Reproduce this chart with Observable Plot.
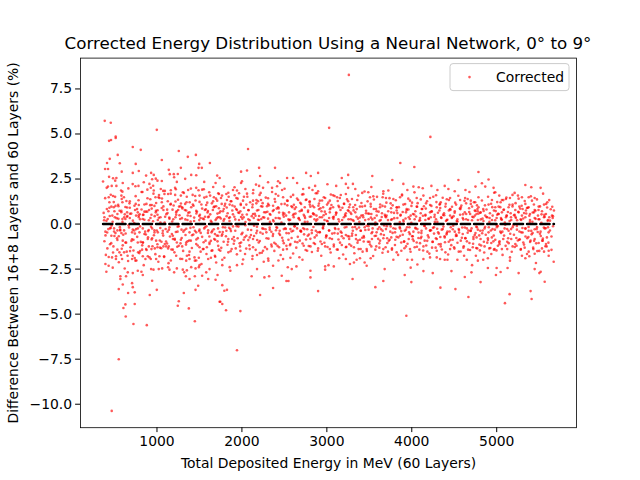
<!DOCTYPE html>
<html>
<head>
<meta charset="utf-8">
<script src="https://cdn.jsdelivr.net/npm/d3@7"></script>
<script src="https://cdn.jsdelivr.net/npm/@observablehq/plot@0.6"></script>
<style>
  html, body { margin: 0; padding: 0; background: white; }
</style>
</head>
<body>
<div id="chart"></div>
<script>
const chartTitle = "Corrected Energy Distribution Using a Neural Network, 0° to 9°";
const xLabel = "Total Deposited Energy in MeV (60 Layers)";
const yLabel = "Difference Between 16+8 Layers and 60 Layers (%)";
const seriesName = "Corrected";
const xTicks = [1000, 2000, 3000, 4000, 5000];
const yTicks = [-10, -7.5, -5, -2.5, 0, 2.5, 5, 7.5];

// [energy (MeV), difference (%)], grouped by energy range
const band1 = [
[385,5.73],[456,5.62],[436,4.62],[459,4.67],[514,4.86],[514,4.78],[998,5.23],[715,4.28],[809,4.12],[1257,4.06],[1363,3.73],[1458,3.84],[538,3.84],[444,3.62],[412,3.39],[562,3.38],[750,3.34],[1057,3.56],[1497,3.34],[1623,3.39],[389,3.06],[424,3.06],[585,2.91],[715,2.84],[786,2.95],[931,2.84],[962,2.73],[872,2.69],[1139,3.01],[1151,2.77],[1198,2.77],[1245,2.78],[1281,3.12],[1332,2.51],[1403,2.73],[1462,2.71],[1489,3.12],[1528,3.12],[1709,2.69],[365,2.36],[436,2.62],[483,2.54],[522,2.56],[943,2.49],[986,2.52],[1057,2.39],[1006,2.41],[845,2.32],[911,2.23],[1202,2.60],[1234,2.34],[1556,2.34],[1662,2.06],[1690,2.28],[408,2.01],[467,2.12],[522,2.12],[597,2.28],[746,2.10],[782,2.12],[927,2.02],[1045,1.95],[1073,1.84],[1163,1.88],[1222,1.93],[1367,1.89],[1399,1.97],[1462,2.01],[1532,1.91],[1552,1.93],[1615,1.77],[593,1.80],[829,1.78],[962,1.86],[959,1.69],[888,1.43],[982,1.49],[1018,1.49],[1029,1.45],[1088,1.67],[1131,1.67],[1214,1.62],[1281,1.58],[1304,1.77],[1450,1.56],[1501,1.58],[1583,1.52],[1670,1.49],[1721,1.71],[432,1.49],[483,1.56],[507,1.51],[581,1.58],[585,1.39],[593,1.21],[640,1.28],[676,1.15],[735,1.02],[786,1.06],[876,1.12],[939,1.06],[970,1.01],[1057,1.21],[1163,1.12],[1218,1.25],[1277,0.99],[1332,1.12],[1348,1.21],[1422,1.08],[1501,1.23],[1580,1.06],[1646,1.15],[1709,1.30],[440,1.21],[463,0.97],[491,0.93],[546,0.99],[428,0.71],[499,0.71],[534,0.56],[581,0.73],[621,0.54],[648,0.65],[652,0.45],[680,0.91],[742,0.78],[774,0.65],[797,0.54],[841,0.52],[852,0.69],[907,0.78],[935,0.52],[986,0.65],[1006,0.52],[1076,0.78],[1120,0.80],[1183,0.80],[1226,0.64],[1249,0.78],[1297,0.93],[1344,0.75],[1383,0.65],[1462,0.73],[1497,0.45],[1564,0.78],[1595,0.64],[1627,0.54],[1658,0.78],[1697,0.99],[1729,0.88],[381,0.38],[420,0.28],[503,0.38],[593,0.28],[628,0.28],[680,0.34],[754,0.47],[786,0.38],[833,0.28],[923,0.34],[1010,0.23],[1041,0.38],[1096,0.41],[1147,0.30],[1218,0.38],[1273,0.28],[1359,0.23],[1395,0.45],[1438,0.36],[1513,0.34],[1552,0.27],[1603,0.38],[1690,0.23],[1717,0.38],
[393,-0.42],[448,-0.24],[495,-0.24],[463,-0.65],[511,-0.50],[534,-0.35],[566,-0.35],[613,-0.35],[581,-0.50],[550,-0.68],[456,-0.20],[597,-0.92],[628,-1.02],[416,-1.35],[487,-1.24],[534,-1.42],[558,-1.57],[577,-1.72],[613,-1.57],[644,-1.53],[683,-1.50],[518,-1.79],[471,-1.85],[432,-1.83],[393,-2.22],[479,-2.42],[404,-2.65],[589,-1.94],[660,-2.05],[707,-1.94],[738,-1.89],[746,-2.03],[778,-1.57],[801,-1.50],[825,-1.42],[715,-0.31],[707,-0.46],[754,-0.28],[794,-0.46],[833,-0.24],[852,-0.55],[896,-0.39],[943,-0.24],[970,-0.35],[1010,-0.46],[1069,-0.37],[1124,-0.42],[1147,-0.18],[1187,-0.65],[1242,-0.42],[1289,-0.31],[1336,-0.61],[1383,-0.46],[1430,-0.18],[1462,-0.46],[1501,-0.31],[1556,-0.24],[1603,-0.35],[1642,-0.46],[1682,-0.55],[1721,-0.65],[723,-0.87],[774,-1.02],[833,-1.02],[892,-0.83],[943,-0.79],[990,-0.92],[1053,-0.98],[1092,-1.11],[1139,-1.24],[1210,-0.87],[1234,-1.02],[1281,-0.87],[1344,-1.02],[1399,-0.92],[1462,-1.11],[1501,-1.29],[1572,-0.92],[1619,-1.02],[1674,-0.83],[1713,-0.96],[872,-1.39],[904,-1.24],[935,-1.39],[974,-1.35],[1006,-1.29],[1037,-1.31],[1076,-1.24],[1108,-1.24],[1131,-1.35],[1187,-1.42],[1257,-1.20],[1297,-1.24],[1352,-1.76],[1383,-1.53],[1462,-2.02],[1493,-1.87],[1540,-1.39],[1587,-1.29],[1642,-1.48],[1682,-1.76],[1729,-1.42],[715,-1.76],[833,-1.79],[864,-1.94],[892,-1.79],[927,-1.94],[990,-1.94],[1029,-1.79],[1084,-1.83],[1163,-2.02],[1226,-1.76],[1297,-1.94],[1344,-2.03],[1383,-1.94],[1442,-1.85],[1501,-2.28],[1524,-2.22],[1603,-1.94],[1635,-1.87],[1697,-2.13],[656,-2.68],[715,-2.72],[774,-2.59],[817,-2.65],[833,-2.83],[931,-2.50],[959,-2.53],[1021,-2.50],[1061,-2.46],[1131,-2.40],[1147,-2.53],[1234,-2.46],[1304,-2.53],[1352,-2.57],[1403,-2.39],[1454,-2.46],[1493,-2.39],[1580,-2.68],[1619,-2.50],[1690,-3.09],[1713,-2.83],[569,-2.90],[569,-3.05],[636,-2.90],[707,-3.28],[715,-3.50],[597,-3.35],[550,-3.61],[660,-3.83],[738,-3.79],[915,-3.94],[943,-3.15],[998,-3.65],[1202,-2.68],[1320,-2.68],[1340,-2.90],[1383,-3.05],[1446,-2.90],[1532,-2.87],[1603,-3.05],[1485,-3.42],[1454,-3.65],[1257,-4.28],[1245,-4.53],[1316,-3.83],[1375,-4.68],[1446,-5.39],[628,-4.46],[605,-4.66],[632,-5.13],[723,-5.55],[738,-4.44],[880,-5.61],[550,-7.50],[467,-10.37],[1737,-4.31]
];
// estimated points in the unresolved dense band, same energy range
const band1Dense = [
[372,0.62],[381,-0.95],[390,1.44],[398,-1.71],[405,0.18],[414,-0.47],[423,2.08],[431,-2.31],[440,0.91],[447,-1.12],[456,1.63],[466,-0.08],[474,0.47],[483,-1.58],[491,1.22],[499,-0.66],[508,2.41],[517,-1.94],[525,0.33],[534,-0.88],[543,1.07],[551,-2.12],[560,0.74],[568,-0.31],[577,1.86],[585,-1.37],[594,0.12],[603,-0.59],[611,1.49],[620,-2.47],[628,0.95],[637,-1.03],[646,0.41],[654,-1.76],[663,1.98],[671,-0.19],[680,1.26],[689,-1.29],[697,0.58],[706,-0.84],[714,2.22],[723,-1.47],[732,0.06],[740,-0.53],[749,1.55],[758,-2.02],[766,0.83],[775,-0.24],[783,1.32],[792,-1.61],[801,0.27],[809,-0.99],[818,1.78],[826,-1.18],[835,0.51],[844,-2.28],[852,1.09],[861,-0.42],[869,0.69],[878,-1.44],[887,1.91],[895,-0.73],[904,0.21],[912,-1.85],[921,1.38],[930,-0.15],[938,0.86],[947,-1.23],[955,2.13],[964,-0.62],[973,0.44],[981,-1.67],[990,1.17],[998,-0.36],[1007,0.77],[1016,-2.09],[1024,1.61],[1033,-0.91],[1041,0.09],[1050,-1.34],[1059,1.42],[1067,-0.51],[1076,0.98],[1084,-1.79],[1093,1.84],[1102,-0.27],[1110,0.55],[1119,-1.08],[1127,1.27],[1136,-2.17],[1145,0.36],[1153,-0.69],[1162,1.69],[1170,-1.41],[1179,0.14],[1188,-0.83],[1196,1.03],[1205,-1.57],[1213,2.01],[1222,-0.44],[1231,0.71],[1239,-1.26],[1248,1.35],[1256,-0.12],[1265,0.49],[1274,-1.93],[1282,1.14],[1291,-0.77],[1299,0.87],[1308,-1.49],[1317,1.73],[1325,-0.33],[1334,0.26],[1342,-1.14],[1351,1.52],[1360,-0.96],[1368,0.63],[1377,-1.72],[1385,1.21],[1394,-0.21],[1403,0.93],[1411,-1.33],[1420,1.62],[1428,-0.58],[1437,0.17],[1446,-2.03],[1454,1.31],[1463,-0.86],[1471,0.68],[1480,-1.19],[1489,1.88],[1497,-0.39],[1506,0.52],[1514,-1.53],[1523,1.09],[1532,-0.71],[1540,0.31],[1549,-1.38],[1557,1.47],[1566,-0.18],[1575,0.82],[1583,-1.66],[1592,1.19],[1600,-0.49],[1609,0.42],[1618,-1.11],[1626,1.58],[1635,-0.93],[1643,0.11],[1652,-1.46],[1661,1.26],[1669,-0.29],[1678,0.97],[1686,-1.81],[1695,1.41],[1704,-0.64],[1712,0.58],[1721,-1.21],[1730,1.67],[1738,-0.44],
[377,0.21],[394,-0.63],[410,0.84],[427,-0.28],[444,0.45],[461,-1.06],[478,0.13],[495,-0.41],[512,1.01],[529,-0.79],[546,0.29],[563,-0.17],[580,0.66],[597,-1.18],[614,0.38],[631,-0.52],[648,0.92],[665,-0.07],[682,0.57],[699,-0.94],[716,0.19],[733,-0.36],[750,1.12],[767,-0.71],[784,0.47],[801,-0.13],[818,0.81],[835,-1.02],[852,0.24],[869,-0.58],[886,0.69],[903,-0.33],[920,1.05],[937,-0.86],[954,0.16],[971,-0.47],[988,0.74],[1005,-1.12],[1022,0.35],[1039,-0.22],[1056,0.89],[1073,-0.64],[1090,0.09],[1107,-0.97],[1124,0.61],[1141,-0.31],[1158,1.09],[1175,-0.55],[1192,0.27],[1209,-0.82],[1226,0.52],[1243,-0.15],[1260,0.97],[1277,-1.07],[1294,0.33],[1311,-0.42],[1328,0.78],[1345,-0.26],[1362,0.48],[1379,-0.91],[1396,0.14],[1413,-0.62],[1430,1.02],[1447,-0.37],[1464,0.59],[1481,-0.78],[1498,0.22],[1515,-0.49],[1532,0.86],[1549,-1.01],[1566,0.41],[1583,-0.12],[1600,0.72],[1617,-0.69],[1634,0.18],[1651,-0.38],[1668,0.94],[1685,-0.87],[1702,0.31],[1719,-0.24],[1736,0.63]
];

const band2 = [
[3259,8.28],[3027,5.34],[2072,4.17],[1990,2.91],[2060,2.97],[2202,3.12],[2390,3.12],[2756,2.84],[2897,2.84],[2811,2.67],[3251,2.73],[3176,2.56],[2214,2.67],[1738,2.56],[2001,2.38],[1990,2.28],[2308,2.32],[2426,2.38],[2449,2.28],[2532,2.56],[2603,2.56],[2650,2.28],[1789,2.08],[2166,2.19],[2202,2.12],[2249,2.01],[2355,2.01],[2414,2.10],[2473,1.89],[2721,1.95],[2791,2.01],[2831,1.89],[2862,2.12],[2897,1.82],[3007,2.21],[3110,2.12],[3224,2.23],[3251,2.01],[1895,1.89],[1942,1.86],[1966,1.71],[2041,1.95],[2131,1.71],[2221,1.73],[2398,1.67],[2603,1.62],[2709,1.64],[2886,1.71],[3047,1.64],[3074,1.60],[3121,1.49],[3224,1.67],[1817,1.67],[1844,1.52],[1915,1.60],[1754,1.45],[1824,1.34],[1868,1.27],[1935,1.45],[2013,1.30],[2064,1.52],[2131,1.30],[2190,1.27],[2225,1.34],[2308,1.43],[2386,1.39],[2485,1.49],[2532,1.30],[2662,1.34],[2752,1.34],[2799,1.25],[2854,1.39],[2917,1.30],[2964,1.49],[3035,1.30],[3153,1.45],[3251,1.27],[1762,1.12],[1797,1.02],[1856,1.08],[1915,0.97],[1986,1.12],[2052,1.08],[2123,0.93],[2170,1.15],[2241,0.97],[2308,1.12],[2367,1.02],[2426,0.93],[2504,1.12],[2583,0.99],[2622,0.84],[2697,1.12],[2740,0.93],[2799,1.08],[2850,0.93],[2901,1.02],[2956,0.93],[3003,1.08],[3074,0.93],[3137,1.02],[3204,1.12],[3263,0.93],[1777,0.71],[1832,0.60],[1887,0.75],[1942,0.78],[1982,0.71],[2005,0.52],[2076,0.78],[2131,0.56],[2178,0.75],[2202,0.45],[2280,0.65],[2328,0.56],[2375,0.78],[2438,0.64],[2485,0.52],[2555,0.65],[2610,0.56],[2681,0.71],[2728,0.52],[2779,0.75],[2838,0.60],[2878,0.47],[2937,0.71],[2988,0.56],[3035,0.65],[3106,0.52],[3161,0.78],[3224,0.60],[1738,0.38],[1793,0.28],[1848,0.34],[1911,0.41],[1966,0.23],[2021,0.38],[2076,0.27],[2139,0.34],[2202,0.23],[2249,0.38],[2308,0.30],[2367,0.23],[2430,0.34],[2493,0.41],[2548,0.27],[2610,0.38],[2681,0.23],[2744,0.34],[2799,0.41],[2854,0.27],[2917,0.38],[2972,0.23],[3027,0.34],[3082,0.41],[3137,0.27],[3200,0.38],[3255,0.27],
[1777,-0.18],[1817,-0.37],[1864,-0.28],[1895,-0.13],[1762,-0.65],[1785,-0.98],[1840,-0.83],[1911,-0.92],[1950,-0.79],[1990,-1.02],[2021,-0.87],[2052,-0.65],[2092,-0.74],[2131,-0.83],[2170,-0.50],[2178,-0.37],[2241,-0.24],[2288,-0.46],[2328,-0.31],[2367,-0.55],[2406,-0.18],[2445,-0.37],[2493,-0.28],[2524,-0.50],[2571,-0.28],[2603,-0.37],[2650,-0.24],[2697,-0.42],[2736,-0.28],[2775,-0.65],[2823,-0.50],[2870,-0.37],[2917,-0.46],[2956,-0.24],[2996,-0.65],[3035,-0.79],[3090,-0.50],[3137,-0.28],[3176,-0.68],[3224,-0.61],[3263,-0.83],[1746,-1.48],[1840,-1.57],[1879,-1.39],[1927,-1.35],[1982,-1.48],[2037,-1.66],[2092,-1.39],[2131,-1.29],[2178,-1.72],[2210,-1.61],[2249,-1.48],[2296,-1.39],[2351,-1.24],[2398,-1.11],[2438,-1.29],[2485,-1.42],[2524,-1.20],[2571,-1.11],[2626,-0.98],[2681,-0.92],[2728,-1.20],[2768,-1.48],[2807,-1.24],[2846,-1.05],[2893,-1.48],[2941,-1.11],[2980,-1.24],[3035,-1.39],[3082,-1.24],[3129,-1.42],[3176,-1.16],[3224,-1.29],[1769,-1.98],[1769,-2.28],[1856,-2.39],[1864,-2.59],[1942,-2.28],[2005,-2.22],[2123,-1.94],[2178,-2.50],[2257,-2.09],[2312,-2.03],[2367,-2.31],[2430,-2.02],[2485,-1.94],[2540,-2.40],[2571,-1.87],[2587,-2.50],[2642,-2.35],[2713,-1.98],[2807,-2.59],[2807,-2.96],[2980,-2.35],[2980,-2.53],[3019,-2.28],[3082,-2.35],[3145,-1.90],[3224,-1.94],[2115,-2.90],[2265,-2.96],[2320,-2.90],[2367,-3.55],[2524,-3.16],[2548,-3.16],[2469,-2.87],[1769,-3.39],[1824,-3.65],[1793,-3.70],[2214,-3.94],[2897,-3.72],[1746,-4.31],[1769,-4.44],[1813,-4.78],[1982,-4.83],[1942,-7.00]
];
const band2Dense = [
[1748,0.71],[1757,-1.32],[1766,1.58],[1775,-0.44],[1784,0.19],[1794,-1.87],[1803,1.13],[1812,-0.68],[1821,0.92],[1830,-1.15],[1840,1.74],[1849,-0.21],[1858,0.38],[1867,-1.51],[1876,1.27],[1886,-0.83],[1895,0.54],[1904,-1.09],[1913,2.04],[1922,-0.37],[1932,0.83],[1941,-1.68],[1950,1.41],[1959,-0.14],[1968,0.62],[1978,-1.24],[1987,1.06],[1996,-0.56],[2005,0.29],[2014,-1.97],[2024,1.52],[2033,-0.73],[2042,0.11],[2051,-1.36],[2060,1.69],[2070,-0.31],[2079,0.77],[2088,-1.18],[2097,1.21],[2106,-0.61],[2116,0.44],[2125,-1.77],[2134,1.89],[2143,-0.09],[2152,0.57],[2162,-1.43],[2171,1.33],[2180,-0.88],[2189,0.24],[2198,-1.02],[2208,1.62],[2217,-0.47],[2226,0.99],[2235,-1.59],[2244,1.16],[2254,-0.26],[2263,0.36],[2272,-1.28],[2281,1.47],[2290,-0.79],[2300,0.68],[2309,-1.91],[2318,1.04],[2327,-0.19],[2336,0.52],[2346,-1.13],[2355,1.78],[2364,-0.66],[2373,0.15],[2382,-1.49],[2392,1.24],[2401,-0.34],[2410,0.86],[2419,-1.21],[2428,1.57],[2438,-0.52],[2447,0.31],[2456,-1.72],[2465,1.11],[2474,-0.76],[2484,0.63],[2493,-1.06],[2502,1.96],[2511,-0.23],[2520,0.47],[2530,-1.39],[2539,1.29],[2548,-0.87],[2557,0.21],[2566,-1.17],[2576,1.51],[2585,-0.41],[2594,0.94],[2603,-1.63],[2612,1.07],[2622,-0.12],[2631,0.58],[2640,-1.31],[2649,1.42],[2658,-0.71],[2668,0.33],[2677,-1.84],[2686,1.18],[2695,-0.38],[2704,0.79],[2714,-1.08],[2723,1.66],[2732,-0.57],[2741,0.12],[2750,-1.44],[2760,1.36],[2769,-0.29],[2778,0.67],[2787,-1.22],[2796,1.23],[2806,-0.82],[2815,0.42],[2824,-1.55],[2833,1.02],[2842,-0.16],[2852,0.53],[2861,-1.11],[2870,1.71],[2879,-0.63],[2888,0.26],[2898,-1.35],[2907,1.14],[2916,-0.44],[2925,0.88],[2934,-1.76],[2944,1.31],[2953,-0.21],[2962,0.49],[2971,-1.04],[2980,1.45],[2990,-0.74],[2999,0.18],[3008,-1.27],[3017,1.19],[3026,-0.36],[3036,0.82],[3045,-1.58],[3054,1.06],[3063,-0.53],[3072,0.37],[3082,-1.14],[3091,1.56],[3100,-0.27],[3109,0.64],[3118,-1.41],[3128,1.28],[3137,-0.86],[3146,0.14],[3155,-1.03],[3164,1.61],[3174,-0.48],[3183,0.91],[3192,-1.69],[3201,1.13],[3210,-0.19],[3220,0.45],[3229,-1.26],[3238,1.37],[3247,-0.67],[3256,0.72],[3265,-1.12],
[1752,0.31],[1769,-0.57],[1786,0.83],[1803,-0.19],[1820,0.44],[1837,-0.98],[1854,0.17],[1871,-0.39],[1888,1.03],[1905,-0.72],[1922,0.26],[1939,-0.12],[1956,0.64],[1973,-1.07],[1990,0.39],[2007,-0.48],[2024,0.91],[2041,-0.06],[2058,0.53],[2075,-0.89],[2092,0.21],[2109,-0.33],[2126,1.08],[2143,-0.66],[2160,0.46],[2177,-0.15],[2194,0.78],[2211,-0.94],[2228,0.28],[2245,-0.54],[2262,0.66],[2279,-0.29],[2296,0.99],[2313,-0.81],[2330,0.12],[2347,-0.43],[2364,0.72],[2381,-1.04],[2398,0.34],[2415,-0.21],[2432,0.87],[2449,-0.61],[2466,0.08],[2483,-0.92],[2500,0.58],[2517,-0.27],[2534,1.04],[2551,-0.51],[2568,0.24],[2585,-0.77],[2602,0.49],[2619,-0.13],[2636,0.93],[2653,-1.01],[2670,0.31],[2687,-0.38],[2704,0.74],[2721,-0.23],[2738,0.43],[2755,-0.86],[2772,0.13],[2789,-0.58],[2806,0.96],[2823,-0.34],[2840,0.56],[2857,-0.74],[2874,0.19],[2891,-0.46],[2908,0.82],[2925,-0.97],[2942,0.38],[2959,-0.11],[2976,0.69],[2993,-0.64],[3010,0.16],[3027,-0.36],[3044,0.89],[3061,-0.83],[3078,0.29],[3095,-0.22],[3112,0.61],[3129,-0.53],[3146,0.94],[3163,-0.42],[3180,0.23],[3197,-0.79],[3214,0.51],[3231,-0.16],[3248,0.77],[3265,-0.69]
];

const band3 = [
[4219,4.84],[3865,3.39],[4030,3.17],[3535,2.67],[3771,2.45],[4549,2.45],[4785,2.89],[3307,2.23],[3901,2.23],[3524,2.06],[3335,1.95],[3417,1.73],[3488,1.77],[3665,1.82],[3724,1.86],[3948,1.89],[4019,2.08],[4082,2.04],[4129,1.99],[4231,2.12],[4302,1.89],[4388,2.12],[4431,1.95],[4506,1.82],[4632,1.89],[4679,1.78],[4750,2.08],[3358,1.34],[3508,1.49],[3547,1.54],[3657,1.49],[3696,1.45],[3783,1.39],[3862,1.49],[3885,1.64],[3979,1.30],[4058,1.45],[4137,1.58],[4215,1.45],[4286,1.60],[4333,1.12],[4412,1.38],[4451,1.45],[4569,1.34],[4628,1.45],[4695,1.30],[4785,1.49],[3272,1.08],[3311,0.93],[3390,0.97],[3449,1.01],[3516,1.12],[3579,0.84],[3626,0.93],[3685,0.97],[3751,1.15],[3822,0.93],[3901,1.08],[3940,0.84],[4003,1.19],[4058,0.97],[4117,0.84],[4168,1.15],[4231,1.01],[4294,0.93],[4341,1.21],[4396,0.97],[4451,0.84],[4522,1.08],[4577,0.93],[4640,1.15],[4710,0.97],[4773,0.84],[3288,0.56],[3335,0.65],[3406,0.47],[3461,0.60],[3524,0.56],[3586,0.71],[3649,0.60],[3704,0.47],[3759,0.65],[3822,0.75],[3869,0.52],[3932,0.65],[3987,0.47],[4042,0.71],[4105,0.60],[4160,0.47],[4215,0.65],[4270,0.52],[4325,0.75],[4380,0.60],[4451,0.47],[4506,0.71],[4569,0.52],[4624,0.65],[4687,0.56],[4742,0.75],[3303,0.23],[3366,0.30],[3429,0.38],[3492,0.27],[3563,0.34],[3634,0.23],[3696,0.38],[3767,0.27],[3830,0.34],[3901,0.23],[3964,0.38],[4034,0.27],[4097,0.34],[4160,0.23],[4223,0.38],[4286,0.27],[4349,0.34],[4412,0.23],[4475,0.38],[4537,0.27],[4600,0.34],[4663,0.23],[4726,0.38],
[3303,-0.18],[3351,-0.28],[3398,-0.37],[3445,-0.18],[3492,-0.31],[3539,-0.24],[3586,-0.46],[3618,-0.18],[3657,-0.37],[3696,-0.28],[3751,-0.13],[3803,-0.46],[3862,-0.24],[3917,-0.37],[3972,-0.18],[4019,-0.42],[4066,-0.28],[4113,-0.50],[4168,-0.24],[4215,-0.37],[4262,-0.18],[4310,-0.46],[4365,-0.28],[4412,-0.50],[4459,-0.18],[4506,-0.42],[4553,-0.28],[4600,-0.55],[4648,-0.24],[4695,-0.37],[4750,-0.50],[3296,-0.65],[3343,-0.83],[3390,-0.87],[3437,-0.74],[3484,-0.98],[3531,-0.83],[3579,-0.65],[3626,-0.92],[3665,-0.79],[3712,-1.05],[3759,-0.74],[3806,-0.87],[3862,-0.65],[3909,-0.98],[3964,-0.83],[4011,-0.68],[4058,-1.02],[4105,-0.79],[4152,-0.92],[4199,-0.74],[4247,-0.98],[4294,-0.83],[4341,-1.11],[4388,-0.74],[4435,-0.98],[4482,-0.87],[4530,-0.65],[4577,-0.92],[4632,-0.79],[4679,-1.05],[4726,-0.83],[3319,-1.29],[3374,-1.39],[3421,-1.53],[3469,-1.39],[3524,-1.24],[3571,-1.42],[3618,-1.31],[3665,-1.39],[3720,-1.53],[3767,-1.35],[3822,-1.57],[3877,-1.48],[3932,-1.24],[3979,-1.39],[4034,-1.29],[4089,-1.42],[4137,-1.24],[4184,-1.53],[4239,-1.31],[4294,-1.48],[4341,-1.24],[4396,-1.57],[4451,-1.39],[4498,-1.29],[4553,-1.53],[4608,-1.31],[4663,-1.42],[4718,-1.29],[3272,-2.22],[3319,-2.13],[3351,-1.98],[3390,-1.90],[3445,-2.13],[3469,-2.31],[3516,-1.90],[3681,-2.50],[3783,-1.98],[3948,-1.98],[4003,-1.98],[3987,-2.42],[4066,-2.24],[4137,-1.94],[4215,-1.85],[4294,-1.85],[4333,-1.94],[4388,-1.98],[4420,-1.98],[4537,-1.98],[4616,-1.76],[4648,-1.98],[4710,-2.28],[3303,-3.05],[3571,-3.50],[3665,-3.16],[3917,-2.83],[3995,-3.22],[4137,-2.61],[4247,-2.72],[4467,-2.61],[4624,-2.94],[4703,-2.68],[4337,-3.53],[4514,-3.61],[4667,-4.05],[3936,-5.09]
];
const band3Dense = [
[3278,0.64],[3287,-1.21],[3296,1.39],[3306,-0.37],[3315,0.18],[3324,-1.62],[3333,1.06],[3342,-0.61],[3352,0.83],[3361,-1.04],[3370,1.58],[3379,-0.19],[3388,0.36],[3398,-1.38],[3407,1.17],[3416,-0.76],[3425,0.49],[3434,-0.97],[3444,1.81],[3453,-0.33],[3462,0.74],[3471,-1.49],[3480,1.26],[3490,-0.12],[3499,0.57],[3508,-1.13],[3517,0.97],[3526,-0.51],[3536,0.26],[3545,-1.77],[3554,1.36],[3563,-0.66],[3572,0.09],[3582,-1.24],[3591,1.51],[3600,-0.28],[3609,0.69],[3618,-1.07],[3628,1.09],[3637,-0.56],[3646,0.39],[3655,-1.59],[3664,1.68],[3674,-0.08],[3683,0.51],[3692,-1.29],[3701,1.19],[3710,-0.79],[3720,0.22],[3729,-0.93],[3738,1.44],[3747,-0.42],[3756,0.88],[3766,-1.42],[3775,1.04],[3784,-0.23],[3793,0.33],[3802,-1.16],[3812,1.32],[3821,-0.71],[3830,0.61],[3839,-1.71],[3848,0.94],[3858,-0.17],[3867,0.47],[3876,-1.02],[3885,1.59],[3894,-0.59],[3904,0.14],[3913,-1.34],[3922,1.11],[3931,-0.31],[3940,0.77],[3950,-1.09],[3959,1.41],[3968,-0.46],[3977,0.28],[3986,-1.54],[3996,1.01],[4005,-0.68],[4014,0.56],[4023,-0.94],[4032,1.76],[4042,-0.21],[4051,0.42],[4060,-1.26],[4069,1.16],[4078,-0.77],[4088,0.19],[4097,-1.06],[4106,1.37],[4115,-0.37],[4124,0.84],[4134,-1.47],[4143,0.99],[4152,-0.11],[4161,0.52],[4170,-1.19],[4180,1.27],[4189,-0.63],[4198,0.31],[4207,-1.64],[4216,1.06],[4226,-0.34],[4235,0.71],[4244,-0.99],[4253,1.52],[4262,-0.53],[4272,0.12],[4281,-1.31],[4290,1.22],[4299,-0.26],[4308,0.63],[4318,-1.12],[4327,1.08],[4336,-0.72],[4345,0.37],[4354,-1.41],[4364,1.46],[4373,-0.14],[4382,0.49],[4391,-1.01],[4400,1.13],[4410,-0.57],[4419,0.24],[4428,-1.69],[4437,1.34],[4446,-0.41],[4456,0.79],[4465,-1.17],[4474,0.96],[4483,-0.29],[4492,0.44],[4502,-1.36],[4511,1.19],[4520,-0.66],[4529,0.17],[4538,-1.04],[4548,1.57],[4557,-0.47],[4566,0.86],[4575,-1.52],[4584,1.03],[4594,-0.19],[4603,0.54],[4612,-1.23],[4621,1.29],[4630,-0.78],[4640,0.27],[4649,-0.96],[4658,1.39],[4667,-0.36],[4676,0.67],[4686,-1.44],[4695,1.12],[4704,-0.24],[4713,0.41],[4722,-1.09],[4732,1.21],[4741,-0.61],[4750,0.73],[4759,-1.33],[4768,1.04],[4778,-0.31],[4787,0.58],[4796,-1.14],
[3281,0.27],[3298,-0.53],[3315,0.76],[3332,-0.16],[3349,0.41],[3366,-0.91],[3383,0.13],[3400,-0.37],[3417,0.97],[3434,-0.66],[3451,0.22],[3468,-0.09],[3485,0.59],[3502,-0.99],[3519,0.36],[3536,-0.44],[3553,0.84],[3570,-0.04],[3587,0.48],[3604,-0.82],[3621,0.18],[3638,-0.29],[3655,1.01],[3672,-0.61],[3689,0.43],[3706,-0.12],[3723,0.71],[3740,-0.87],[3757,0.24],[3774,-0.49],[3791,0.62],[3808,-0.26],[3825,0.92],[3842,-0.74],[3859,0.11],[3876,-0.39],[3893,0.67],[3910,-0.96],[3927,0.31],[3944,-0.18],[3961,0.81],[3978,-0.56],[3995,0.07],[4012,-0.84],[4029,0.53],[4046,-0.24],[4063,0.96],[4080,-0.47],[4097,0.21],[4114,-0.71],[4131,0.46],[4148,-0.11],[4165,0.86],[4182,-0.93],[4199,0.28],[4216,-0.34],[4233,0.69],[4250,-0.21],[4267,0.39],[4284,-0.79],[4301,0.12],[4318,-0.53],[4335,0.89],[4352,-0.31],[4369,0.51],[4386,-0.68],[4403,0.17],[4420,-0.42],[4437,0.76],[4454,-0.89],[4471,0.34],[4488,-0.09],[4505,0.63],[4522,-0.58],[4539,0.14],[4556,-0.33],[4573,0.83],[4590,-0.76],[4607,0.26],[4624,-0.19],[4641,0.56],[4658,-0.48],[4675,0.88],[4692,-0.38],[4709,0.21],[4726,-0.72],[4743,0.47],[4760,-0.14],[4777,0.71],[4794,-0.63]
];

const band4 = [
[4826,2.27],[4904,2.47],[4865,2.08],[4963,2.01],[4983,1.77],[5030,1.58],[5061,1.34],[5109,1.39],[5156,1.45],[5211,1.73],[5250,1.58],[5297,1.49],[5337,2.17],[5376,1.49],[5407,2.04],[5447,1.45],[5517,2.01],[4747,1.21],[4786,0.93],[4841,0.84],[4904,1.08],[4944,1.34],[4983,0.93],[5022,0.97],[5046,1.21],[5081,0.78],[5140,0.93],[5187,1.08],[5219,0.78],[5266,0.97],[5305,0.84],[5337,1.12],[5376,0.93],[5415,1.30],[5447,0.78],[5494,0.97],[5557,1.08],[5596,1.21],[5674,0.75],[5651,0.47],[4763,0.56],[4810,0.65],[4865,0.47],[4920,0.60],[4967,0.75],[5006,0.52],[5061,0.65],[5116,0.47],[5164,0.60],[5211,0.52],[5258,0.65],[5297,0.47],[5344,0.75],[5392,0.56],[5439,0.65],[5486,0.47],[5533,0.71],[5580,0.56],[5619,0.38],[4778,0.23],[4833,0.30],[4888,0.38],[4944,0.23],[4999,0.34],[5054,0.27],[5109,0.38],[5171,0.23],[5226,0.34],[5282,0.27],[5337,0.38],[5392,0.23],[5447,0.34],[5502,0.27],[5557,0.38],[5604,0.23],[5659,0.34],
[4767,-0.18],[4806,-0.37],[4857,-0.24],[4904,-0.46],[4951,-0.28],[5002,-0.18],[5042,-0.42],[5093,-0.24],[5140,-0.37],[5187,-0.18],[5238,-0.31],[5289,-0.46],[5337,-0.24],[5376,-0.37],[5423,-0.50],[5470,-0.28],[5517,-0.42],[5565,-0.24],[5604,-0.18],[4763,-0.74],[4810,-0.83],[4849,-0.98],[4896,-0.79],[4936,-1.05],[4983,-0.87],[5030,-1.02],[5077,-0.83],[5124,-0.98],[5171,-0.83],[5219,-1.11],[5266,-0.87],[5313,-1.02],[5360,-0.79],[5399,-0.92],[5447,-0.83],[5494,-1.05],[5541,-0.92],[5580,-1.11],[4771,-1.35],[4802,-1.46],[4857,-1.24],[4912,-1.35],[4967,-1.42],[5014,-1.20],[5061,-1.39],[5124,-1.39],[5187,-1.24],[5234,-1.20],[5282,-1.42],[5329,-1.31],[5376,-1.53],[5431,-1.39],[5478,-1.50],[5533,-1.35],[5588,-1.24],[5612,-1.48],[4755,-1.76],[4778,-2.03],[4841,-1.98],[4896,-1.90],[4936,-1.66],[4975,-1.39],[5156,-1.85],[5156,-2.03],[5297,-1.76],[5337,-1.90],[5384,-1.79],[5447,-1.65],[5557,-1.53],[5612,-1.76],[5671,-2.09],[4896,-2.44],[4999,-2.44],[4991,-2.83],[5046,-2.66],[5128,-2.44],[5258,-2.72],[5447,-2.50],[5462,-2.16],[5502,-2.72],[5518,-2.65],[5565,-3.20],[4810,-3.22],[5152,-3.89],[5097,-4.39],[5399,-3.72],[5411,-4.16]
];
const band4Dense = [
[4808,0.63],[4817,-1.19],[4826,1.31],[4835,-0.36],[4844,0.17],[4853,-1.58],[4862,1.04],[4871,-0.59],[4880,0.81],[4889,-1.03],[4898,1.52],[4907,-0.18],[4916,0.34],[4925,-1.33],[4934,1.13],[4943,-0.74],[4952,0.47],[4961,-0.96],[4970,1.74],[4979,-0.31],[4988,0.72],[4997,-1.46],[5006,1.22],[5015,-0.11],[5024,0.56],[5033,-1.12],[5042,0.94],[5051,-0.49],[5060,0.24],[5069,-1.71],[5078,1.33],[5087,-0.64],[5096,0.08],[5105,-1.21],[5114,1.47],[5123,-0.27],[5132,0.67],[5141,-1.06],[5150,1.07],[5159,-0.54],[5168,0.38],[5177,-1.54],[5186,1.62],[5195,-0.07],[5204,0.49],[5213,-1.27],[5222,1.16],[5231,-0.77],[5240,0.21],[5249,-0.91],[5258,1.41],[5267,-0.41],[5276,0.86],[5285,-1.39],[5294,1.02],[5303,-0.22],[5312,0.31],[5321,-1.14],[5330,1.28],[5339,-0.69],[5348,0.59],[5357,-1.66],[5366,0.91],[5375,-0.16],[5384,0.46],[5393,-0.99],[5402,1.54],[5411,-0.57],[5420,0.13],[5429,-1.31],[5438,1.09],[5447,-0.29],[5456,0.74],[5465,-1.07],[5474,1.37],[5483,-0.44],[5492,0.27],[5501,-1.49],[5510,0.98],[5519,-0.66],[5528,0.54],[5537,-0.92],[5546,1.69],[5555,-0.19],[5564,0.41],[5573,-1.23],[5582,1.12],[5591,-0.74],[5600,0.18],[5609,-1.03],[5618,1.33],[5627,-0.36],[5636,0.82],[5645,-1.43],[5654,0.96],[5663,-0.12],
[4812,0.26],[4829,-0.51],[4846,0.73],[4863,-0.15],[4880,0.39],[4897,-0.88],[4914,0.12],[4931,-0.36],[4948,0.94],[4965,-0.64],[4982,0.21],[4999,-0.08],[5016,0.57],[5033,-0.96],[5050,0.34],[5067,-0.42],[5084,0.81],[5101,-0.04],[5118,0.46],[5135,-0.79],[5152,0.17],[5169,-0.28],[5186,0.98],[5203,-0.59],[5220,0.41],[5237,-0.11],[5254,0.68],[5271,-0.84],[5288,0.23],[5305,-0.47],[5322,0.61],[5339,-0.25],[5356,0.89],[5373,-0.72],[5390,0.11],[5407,-0.38],[5424,0.64],[5441,-0.93],[5458,0.29],[5475,-0.17],[5492,0.78],[5509,-0.54],[5526,0.07],[5543,-0.81],[5560,0.51],[5577,-0.23],[5594,0.92],[5611,-0.46],[5628,0.19],[5645,-0.69],[5662,0.44]
];

const points = [...band1, ...band1Dense, ...band2, ...band2Dense, ...band3, ...band3Dense, ...band4, ...band4Dense]
  .map(([energy, diff]) => ({energy, diff}));

// matplotlib-style autoscale: 5% margin on each side of the data extent
const [eMin, eMax] = d3.extent(points, d => d.energy);
const [dMin, dMax] = d3.extent(points, d => d.diff);
const xDomain = [eMin - 0.05 * (eMax - eMin), eMax + 0.05 * (eMax - eMin)];
const yDomain = [dMin - 0.05 * (dMax - dMin), dMax + 0.05 * (dMax - dMin)];
const zeroLine = [{energy: eMin, diff: 0}, {energy: eMax, diff: 0}];

const FONT = "'DejaVu Sans', Verdana, sans-serif";

function titleMark(index, scales, values, dims) {
  const cx = dims.marginLeft + (dims.width - dims.marginLeft - dims.marginRight) / 2;
  return d3.create("svg:text")
    .attr("x", cx).attr("y", dims.marginTop - 8.3)
    .attr("text-anchor", "middle")
    .attr("font-family", FONT).attr("font-size", 16.7).attr("fill", "black")
    .text(chartTitle).node();
}

function legendMark(index, scales, values, dims) {
  const right = dims.width - dims.marginRight - 7;
  const top = dims.marginTop + 6;
  const w = 119, h = 27;
  const g = d3.create("svg:g");
  g.append("rect").attr("x", right - w).attr("y", top).attr("width", w).attr("height", h)
    .attr("rx", 3).attr("fill", "white").attr("fill-opacity", 0.8)
    .attr("stroke", "#cccccc").attr("stroke-width", 1);
  g.append("circle").attr("cx", right - w + 19.5).attr("cy", top + 13.5).attr("r", 1.3)
    .attr("fill", "red").attr("fill-opacity", 0.65);
  g.append("text").attr("x", right - w + 46).attr("y", top + 13.5).attr("dy", "0.36em")
    .attr("text-anchor", "start")
    .attr("font-family", FONT).attr("font-size", 13.9).attr("fill", "black").text(seriesName);
  return g.node();
}

const chart = Plot.plot({
  width: 640,
  height: 480,
  marginLeft: 80,
  marginRight: 64,
  marginTop: 57.6,
  marginBottom: 52.8,
  style: {fontFamily: FONT, fontSize: "13.9px", color: "black", background: "white", overflow: "visible"},
  x: {domain: xDomain},
  y: {domain: yDomain},
  marks: [
    Plot.dot(points, {x: "energy", y: "diff", r: 1.3, fill: "red", fillOpacity: 0.65}),
    Plot.line(zeroLine, {x: "energy", y: "diff", stroke: "black", strokeWidth: 2.5, strokeDasharray: "9.25,4"}),
    Plot.frame({stroke: "black", strokeWidth: 0.8}),
    Plot.axisX({ticks: xTicks, tickFormat: d => String(d), tickSize: 4.9, tickPadding: 3.5, fontSize: 13.9,
      label: xLabel, labelAnchor: "center", labelArrow: "none", labelOffset: 40}),
    Plot.axisY({ticks: yTicks, tickFormat: d => d.toFixed(1).replace("-", "\u2212"), tickSize: 4.9, tickPadding: 3.5, fontSize: 13.9,
      label: yLabel, labelAnchor: "center", labelArrow: "none", labelOffset: 72}),
    titleMark,
    legendMark
  ]
});

document.getElementById("chart").appendChild(chart);
</script>
</body>
</html>
